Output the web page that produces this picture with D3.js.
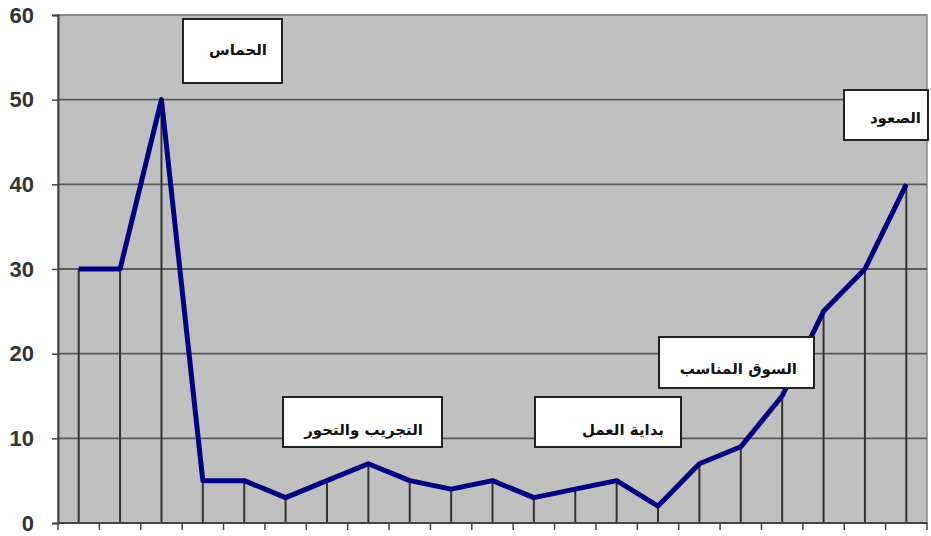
<!DOCTYPE html>
<html>
<head>
<meta charset="utf-8">
<script src="https://cdn.jsdelivr.net/npm/d3@7"></script>
<style>
  body { margin: 0; background: #fff; }
  svg { display: block; }
</style>
</head>
<body>
<script>
// values, one per category
var values = [30, 30, 50, 5, 5, 3, 5, 7, 5, 4, 5, 3, 4, 5, 2, 7, 9, 15, 25, 30, 40];
var yTicks = [0, 10, 20, 30, 40, 50, 60];
var labels = ["الحماس", "التجريب والتحور", "بداية العمل", "السوق المناسب", "الصعود"];

// callout boxes (pixel layout)
var boxes = [
  {x: 183, y: 19, w: 99, h: 64, tx: 267, ty: 50},
  {x: 283, y: 397, w: 159, h: 50, tx: 423, ty: 430},
  {x: 535, y: 397, w: 146, h: 50, tx: 664, ty: 430},
  {x: 659, y: 337, w: 155, h: 51, tx: 797, ty: 369},
  {x: 844, y: 90, w: 84, h: 50, tx: 921, ty: 118}
];

var width = 931, height = 536;
var pLeft = 58, pRight = 927, pTop = 15, pBottom = 523;

var svg = d3.select("body").append("svg").attr("width", width).attr("height", height);

var x = d3.scaleBand().domain(d3.range(values.length)).range([pLeft, pRight]).padding(0);
var y = d3.scaleLinear().domain([0, 60]).range([pBottom, pTop]);

// plot background
svg.append("rect")
    .attr("x", pLeft).attr("y", pTop)
    .attr("width", pRight - pLeft).attr("height", pBottom - pTop)
    .attr("fill", "#c0c0c0")
    .attr("stroke", "#8a8a8a").attr("stroke-width", 1.5);

// horizontal gridlines
svg.selectAll(".grid").data(yTicks.filter(d => d > 0)).enter()
    .append("line")
    .attr("x1", pLeft).attr("x2", pRight)
    .attr("y1", d => y(d)).attr("y2", d => y(d))
    .attr("stroke", d => d == 60 ? "#8a8a8a" : "#5a5a5a")
    .attr("stroke-width", 1.8);

// drop lines from each point
svg.selectAll(".drop").data(values).enter()
    .append("line")
    .attr("x1", (d, i) => x(i) + x.bandwidth() / 2)
    .attr("x2", (d, i) => x(i) + x.bandwidth() / 2)
    .attr("y1", d => y(d)).attr("y2", pBottom)
    .attr("stroke", "#333").attr("stroke-width", 2);

// y axis
var yAxis = svg.append("g")
    .attr("transform", "translate(" + pLeft + ",0)")
    .call(d3.axisLeft(y).tickValues(yTicks).tickSize(6).tickPadding(18));
yAxis.select(".domain").attr("stroke", "#444").attr("stroke-width", 2);
yAxis.selectAll(".tick line").attr("stroke", "#444").attr("stroke-width", 1.5);
yAxis.selectAll(".tick text")
    .attr("fill", "#333")
    .style("font-family", "'Liberation Sans', Arial, sans-serif")
    .style("font-weight", "bold")
    .style("font-size", "22px");

// x axis baseline with ticks at band edges
var edges = d3.range(values.length + 1).map(i => pLeft + i * x.step());
svg.append("line")
    .attr("x1", pLeft).attr("x2", pRight)
    .attr("y1", pBottom).attr("y2", pBottom)
    .attr("stroke", "#444").attr("stroke-width", 2);
svg.selectAll(".xtick").data(edges).enter()
    .append("line")
    .attr("x1", d => d).attr("x2", d => d)
    .attr("y1", pBottom).attr("y2", pBottom + 7)
    .attr("stroke", "#444").attr("stroke-width", 1.5);

// series line
var line = d3.line()
    .x((d, i) => x(i) + x.bandwidth() / 2)
    .y(d => y(d));
svg.append("path")
    .datum(values)
    .attr("d", line)
    .attr("fill", "none")
    .attr("stroke", "#000080")
    .attr("stroke-width", 5)
    .attr("stroke-linejoin", "round");

// callouts
var g = svg.selectAll(".callout").data(labels).enter().append("g");
g.append("rect")
    .attr("x", (d, i) => boxes[i].x).attr("y", (d, i) => boxes[i].y)
    .attr("width", (d, i) => boxes[i].w).attr("height", (d, i) => boxes[i].h)
    .attr("fill", "#fff")
    .attr("stroke", "#222").attr("stroke-width", 2);
g.append("text")
    .attr("x", (d, i) => boxes[i].tx).attr("y", (d, i) => boxes[i].ty)
    .attr("text-anchor", "end")
    .attr("dominant-baseline", "middle")
    .attr("fill", "#111")
    .style("font-family", "'DejaVu Sans', sans-serif")
    .style("font-weight", "bold")
    .style("font-size", "15px")
    .text(d => d);
</script>
</body>
</html>
